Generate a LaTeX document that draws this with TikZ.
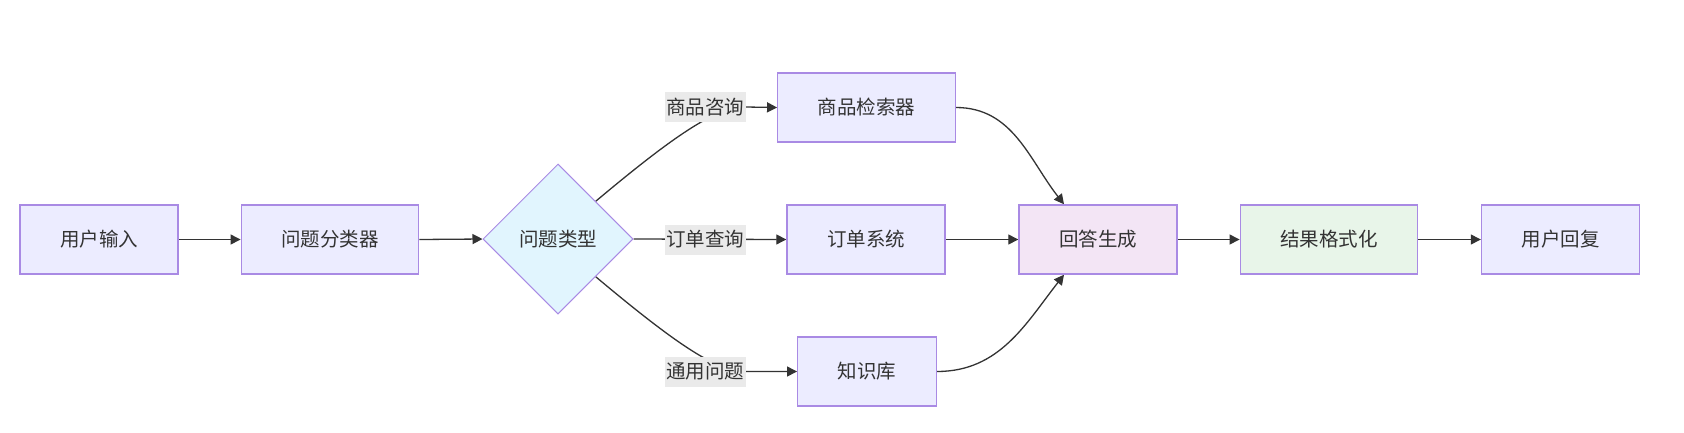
\documentclass[tikz,border=0pt]{standalone}
\usepackage{fontspec}
\newfontfamily\cjk{Noto Sans CJK SC}
\usetikzlibrary{arrows.meta,shapes.geometric,backgrounds}

\definecolor{ink}{HTML}{333333}
\definecolor{boxline}{HTML}{A98AE4}
\definecolor{boxfill}{HTML}{ECECFF}
\definecolor{diafill}{HTML}{E1F5FE}
\definecolor{genfill}{HTML}{F3E5F5}
\definecolor{fmtfill}{HTML}{E8F5E9}
\definecolor{lblfill}{HTML}{EAEAEA}

\begin{document}
\begin{tikzpicture}[
  x=1pt,y=-1pt,
  font=\cjk\fontsize{19.5}{23}\selectfont,
  text=ink,
  box/.style={draw=boxline,fill=boxfill,line width=1.4pt,minimum height=69pt,inner xsep=40pt,inner ysep=0pt},
  dec/.style={diamond,aspect=1,draw=boxline,fill=diafill,line width=1pt,minimum size=150pt,inner sep=0pt},
  elbl/.style={fill=lblfill,inner xsep=1.5pt,inner ysep=0pt,minimum height=30pt},
  arr/.style={draw=ink,line width=1.3pt,-{Triangle[length=10pt,width=10pt]}}
]
\useasboundingbox (0,0) rectangle (1684,432);

% ---- main row ----
\node[box] (uin) at (99,239.5) {用户输入};
\node[box] (clf) at (330,239.5) {问题分类器};
\node[dec] (qtype) at (558,239) {问题类型};

% ---- three handlers ----
\node[box] (search) at (866.5,107.5) {商品检索器};
\node[box] (order) at (866,239.5) {订单系统};
\node[box] (kb) at (867,371.5) {知识库};

% ---- edge labels ----
\node[elbl] (l1) at (705,107) {商品咨询};
\node[elbl] (l2) at (705,239.5) {订单查询};
\node[elbl] (l3) at (705,371.5) {通用问题};

% ---- output side ----
\node[box,fill=genfill] (gen) at (1098,239.5) {回答生成};
\node[box,fill=fmtfill] (fmt) at (1329,239.5) {结果格式化};
\node[box] (reply) at (1560.5,239.5) {用户回复};

% ---- connectors ----
\begin{scope}[on background layer]
  \draw[arr] (uin.east) -- (clf.west);
  \draw[arr] (clf.east) -- (qtype.west);
  \draw[arr] (qtype.north east) to[out=40,in=180,out looseness=1.6,in looseness=0.4] (l1.east) -- (search.west);
  \draw[arr] (qtype.east) -- (order.west);
  \draw[arr] (qtype.south east) to[out=-40,in=180,out looseness=1.6,in looseness=0.4] (l3.east) -- (kb.west);
  \draw[arr] (search.east) to[out=0,in=128] (gen.134);
  \draw[arr] (order.east) -- (gen.west);
  \draw[arr] (kb.east) to[out=0,in=-128] (gen.226);
  \draw[arr] (gen.east) -- (fmt.west);
  \draw[arr] (fmt.east) -- (reply.west);
\end{scope}

\end{tikzpicture}
\end{document}
